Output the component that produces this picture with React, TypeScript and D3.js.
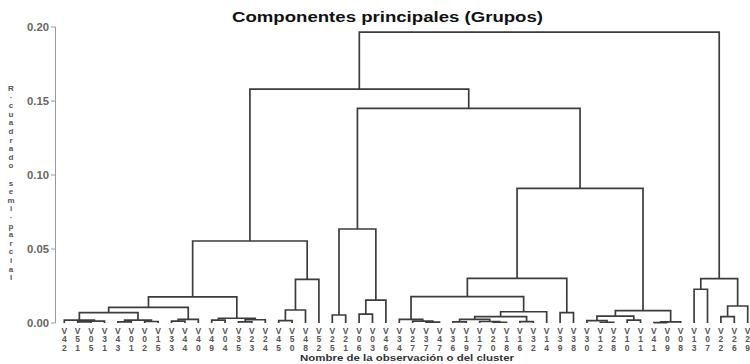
import React from 'react';
import * as d3 from 'd3';

// leaf order as drawn on the x axis
const leaves = [
  'V42', 'V51', 'V05', 'V31', 'V43', 'V01', 'V02', 'V15', 'V33', 'V44', 'V40', 'V49', 'V04',
  'V35', 'V23', 'V24', 'V45', 'V50', 'V48', 'V52', 'V25', 'V21', 'V06', 'V03', 'V46', 'V34',
  'V27', 'V37', 'V47', 'V36', 'V19', 'V17', 'V20', 'V18', 'V16', 'V32', 'V14', 'V39', 'V38',
  'V30', 'V12', 'V28', 'V10', 'V11', 'V41', 'V09', 'V08', 'V13', 'V07', 'V22', 'V26', 'V29',
];

// merges: [left, right, semi-partial R²]; strings are leaves, numbers point to earlier merges
const merges: [string | number, string | number, number][] = [
  ['V51', 'V05', 0.0008],
  [0, 'V31', 0.0012],
  ['V42', 1, 0.002],
  ['V43', 'V01', 0.0008],
  ['V02', 'V15', 0.001],
  [3, 4, 0.002],
  [2, 5, 0.007],
  ['V33', 'V44', 0.0012],
  [7, 'V40', 0.0025],
  [6, 8, 0.0106],
  ['V49', 'V04', 0.002],
  ['V35', 'V23', 0.0008],
  [11, 'V24', 0.0022],
  [10, 12, 0.0032],
  [9, 13, 0.0176],
  ['V45', 'V50', 0.0016],
  [15, 'V48', 0.0088],
  [16, 'V52', 0.0295],
  [14, 17, 0.0554],
  ['V25', 'V21', 0.0054],
  ['V06', 'V03', 0.006],
  [20, 'V46', 0.0155],
  [19, 21, 0.0635],
  ['V37', 'V47', 0.0006],
  ['V27', 23, 0.0012],
  ['V34', 24, 0.0025],
  ['V36', 'V19', 0.0008],
  ['V20', 'V18', 0.0005],
  ['V17', 27, 0.001],
  [26, 28, 0.0025],
  ['V16', 'V32', 0.0009],
  [29, 30, 0.0043],
  [31, 'V14', 0.0076],
  [25, 32, 0.0178],
  ['V39', 'V38', 0.007],
  [33, 34, 0.0302],
  ['V12', 'V28', 0.0005],
  ['V30', 36, 0.0016],
  ['V10', 'V11', 0.002],
  [37, 38, 0.0047],
  ['V41', 'V09', 0.0003],
  [40, 'V08', 0.0008],
  [39, 41, 0.0083],
  [35, 42, 0.091],
  [22, 43, 0.145],
  [18, 44, 0.158],
  ['V13', 'V07', 0.0228],
  ['V22', 'V26', 0.0043],
  [47, 'V29', 0.0115],
  [46, 48, 0.03],
  [45, 49, 0.1966],
];

const yTicks = [0, 0.05, 0.1, 0.15, 0.2];
const title = 'Componentes principales (Grupos)';
const yTitle = 'R-cuadrado semi-parcial';
const xTitle = 'Nombre de la observación o del cluster';

const W = 750;
const H = 364;
const FONT = '"Liberation Sans", Arial, sans-serif';

export default function App() {
  const x = d3.scalePoint<string>().domain(leaves).range([64.3, 747.7]);
  const y = d3.scaleLinear().domain([0, 0.2]).range([323, 27]);

  // position of every merge node
  const pos: { x: number; h: number }[] = [];
  const at = (r: string | number) =>
    typeof r === 'string' ? { x: x(r) as number, h: 0 } : pos[r];
  const paths: string[] = [];
  merges.forEach(([a, b, h]) => {
    const pa = at(a);
    const pb = at(b);
    pos.push({ x: (pa.x + pb.x) / 2, h });
    paths.push(`M${pa.x},${y(pa.h)}V${y(h)}H${pb.x}V${y(pb.h)}`);
  });

  return (
    <svg width={W} height={H} style={{ position: 'absolute', left: 0, top: 0, background: '#fff' }}>
      <text x={232} y={22} fontFamily={FONT} fontWeight="bold" fontSize={14} fill="#111"
        textLength={311} lengthAdjust="spacingAndGlyphs">{title}</text>

      {/* y axis */}
      <line x1={55.5} x2={55.5} y1={y(0.2)} y2={y(0)} stroke="#9a9a9a" strokeWidth={1} />
      {yTicks.map(t => (
        <g key={t}>
          <line x1={51} x2={55.5} y1={y(t)} y2={y(t)} stroke="#9a9a9a" strokeWidth={1} />
          <text x={49} y={y(t)} dy="0.35em" textAnchor="end" fontFamily={FONT} fontWeight="bold"
            fontSize={10} fill="#666" textLength={22} lengthAdjust="spacingAndGlyphs">{t.toFixed(2)}</text>
        </g>
      ))}

      {/* stacked y title */}
      {yTitle.split('').map((c, i) => (
        <text key={i} x={11} y={91 + i * 8.6} textAnchor="middle" fontFamily={FONT} fontWeight="bold"
          fontSize={8} fill="#555">{c === '-' ? '·' : c}</text>
      ))}

      {/* dendrogram */}
      {paths.map((d, i) => (
        <path key={i} d={d} fill="none" stroke="#3c3c3c" strokeWidth={1.7} />
      ))}

      {/* leaf labels, stacked characters */}
      {leaves.map(l => (
        <g key={l} fontFamily={FONT} fontWeight="bold" fontSize={8.5} fill="#555" textAnchor="middle">
          {l.split('').map((c, i) => (
            <text key={i} x={x(l)} y={333.5 + i * 8.5}>{c}</text>
          ))}
        </g>
      ))}

      <text x={300} y={361} fontFamily={FONT} fontWeight="bold" fontSize={8.5} fill="#333"
        textLength={214} lengthAdjust="spacingAndGlyphs">{xTitle}</text>
    </svg>
  );
}
